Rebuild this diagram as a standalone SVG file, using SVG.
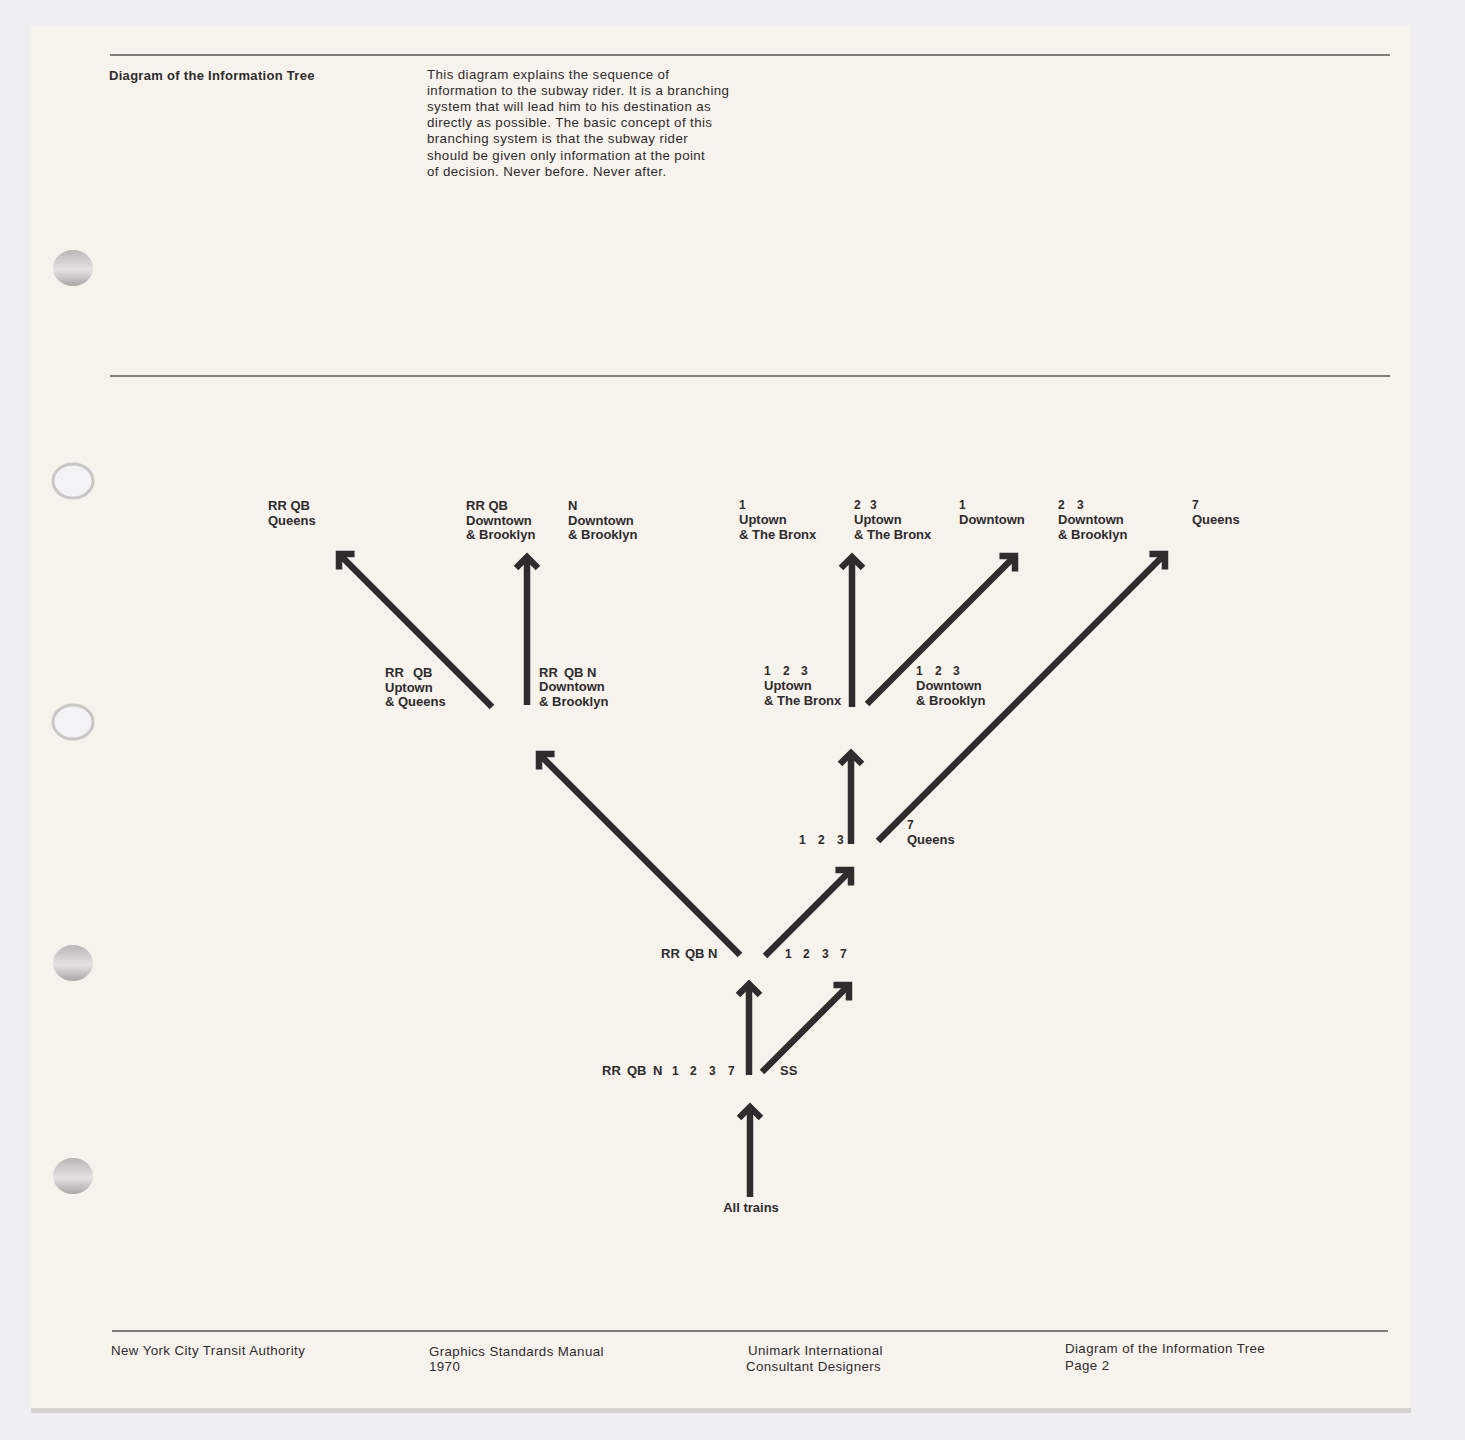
<svg xmlns="http://www.w3.org/2000/svg" width="1465" height="1440" viewBox="0 0 1465 1440">
<defs>
<style>
.lbl{font-family:"Liberation Sans",Arial,sans-serif;font-weight:bold;font-size:13px;fill:#2e2b2b}
.num{font-size:12px}
.hd{font-family:"Liberation Sans",Arial,sans-serif;font-weight:bold;font-size:13px;fill:#2e2b2b;letter-spacing:0.3px}
.body{font-family:"Liberation Sans",Arial,sans-serif;font-size:13.3px;fill:#2e2b2b;letter-spacing:0.4px}
.rule{stroke:#5a5654;stroke-width:1.3;fill:none}
.arr{stroke:#302c2d;stroke-width:6.5;fill:none;stroke-linecap:butt;marker-end:url(#ah)}
</style>
<marker id="ah" markerUnits="userSpaceOnUse" orient="auto" markerWidth="40" markerHeight="40" refX="20" refY="20" viewBox="0 0 40 40" overflow="visible">
<path d="M9,9 L20,20 L9,31" fill="none" stroke="#302c2d" stroke-width="6.5" stroke-linejoin="miter"/>
</marker>
<linearGradient id="holeG" x1="0" y1="0" x2="0" y2="1">
<stop offset="0" stop-color="#b9b7b5"/>
<stop offset="0.45" stop-color="#dcdbd9"/>
<stop offset="0.55" stop-color="#e4e3e1"/>
<stop offset="1" stop-color="#a9a7a5"/>
</linearGradient>
</defs>
<rect x="0" y="0" width="1465" height="1440" fill="#efeff1"/>
<rect x="31" y="1400" width="1380" height="13" fill="#d6d4d2"/>
<rect x="31" y="25" width="1380" height="1383" fill="#f6f3ed"/>
<g id="holes">
<ellipse cx="73" cy="268" rx="20" ry="18" fill="url(#holeG)"/>
<ellipse cx="73" cy="481" rx="20" ry="17" fill="#f3f3f5" stroke="#c9c7c5" stroke-width="3"/>
<ellipse cx="73" cy="722" rx="20" ry="17" fill="#f3f3f5" stroke="#c9c7c5" stroke-width="3"/>
<ellipse cx="73" cy="963" rx="20" ry="18" fill="url(#holeG)"/>
<ellipse cx="73" cy="1176" rx="20" ry="18" fill="url(#holeG)"/>
</g>
<g id="rules">
<line class="rule" x1="110" y1="55" x2="1390" y2="55"/>
<line class="rule" x1="110" y1="376" x2="1390" y2="376"/>
<line class="rule" x1="112" y1="1331" x2="1388" y2="1331"/>
</g>
<g id="header">
<text class="hd" x="109" y="80">Diagram of the Information Tree</text>
<text class="body" x="427" y="79">This diagram explains the sequence of</text>
<text class="body" x="427" y="95">information to the subway rider. It is a branching</text>
<text class="body" x="427" y="111">system that will lead him to his destination as</text>
<text class="body" x="427" y="127">directly as possible. The basic concept of this</text>
<text class="body" x="427" y="143">branching system is that the subway rider</text>
<text class="body" x="427" y="160">should be given only information at the point</text>
<text class="body" x="427" y="176">of decision. Never before. Never after.</text>
</g>
<g id="connectors">
<path class="arr" d="M750,1197 L750,1107"/>
<path class="arr" d="M749,1075 L749,984"/>
<path class="arr" d="M762,1072 L849,985"/>
<path class="arr" d="M740,955 L539,754"/>
<path class="arr" d="M765,956 L851,870"/>
<path class="arr" d="M851,844 L851,753"/>
<path class="arr" d="M878,841 L1165,554"/>
<path class="arr" d="M492,707 L339,554"/>
<path class="arr" d="M527,705 L527,557"/>
<path class="arr" d="M852,707 L852,557"/>
<path class="arr" d="M867,704 L1015,556"/>
</g>
<g id="node-all-trains"><text class="lbl" x="751" y="1212" text-anchor="middle" font-size="12.5">All trains</text></g>
<g id="node-level1">
<text class="lbl" y="1075"><tspan x="602">RR</tspan><tspan x="627">QB</tspan><tspan x="653">N</tspan></text>
<text class="lbl num" y="1075"><tspan x="672">1</tspan><tspan x="690">2</tspan><tspan x="709">3</tspan><tspan x="728">7</tspan></text>
<text class="lbl" x="780" y="1075">SS</text>
</g>
<g id="node-level2">
<text class="lbl" y="958"><tspan x="661">RR</tspan><tspan x="685">QB</tspan><tspan x="708">N</tspan></text>
<text class="lbl num" y="958"><tspan x="785">1</tspan><tspan x="803">2</tspan><tspan x="822">3</tspan><tspan x="840">7</tspan></text>
</g>
<g id="node-level3">
<text class="lbl num" y="844"><tspan x="799">1</tspan><tspan x="818">2</tspan><tspan x="837">3</tspan></text>
<text class="lbl num" x="907" y="829">7</text>
<text class="lbl" x="907" y="844">Queens</text>
</g>
<g id="node-rrqb-uptown">
<text class="lbl" y="677"><tspan x="385">RR</tspan><tspan x="413">QB</tspan></text>
<text class="lbl" x="385" y="691.5">Uptown</text>
<text class="lbl" x="385" y="706">&amp; Queens</text>
</g>
<g id="node-rrqbn-downtown">
<text class="lbl" y="676.5"><tspan x="539">RR</tspan><tspan x="564">QB</tspan><tspan x="587">N</tspan></text>
<text class="lbl" x="539" y="691">Downtown</text>
<text class="lbl" x="539" y="705.5">&amp; Brooklyn</text>
</g>
<g id="node-123-uptown">
<text class="lbl num" y="675"><tspan x="764">1</tspan><tspan x="783">2</tspan><tspan x="801">3</tspan></text>
<text class="lbl" x="764" y="690">Uptown</text>
<text class="lbl" x="764" y="705">&amp; The Bronx</text>
</g>
<g id="node-123-downtown">
<text class="lbl num" y="675"><tspan x="916">1</tspan><tspan x="935">2</tspan><tspan x="953">3</tspan></text>
<text class="lbl" x="916" y="690">Downtown</text>
<text class="lbl" x="916" y="705">&amp; Brooklyn</text>
</g>
<g id="node-top-rrqb-queens">
<text class="lbl" x="268" y="510">RR QB</text>
<text class="lbl" x="268" y="524.5">Queens</text>
</g>
<g id="node-top-rrqb-downtown">
<text class="lbl" x="466" y="510">RR QB</text>
<text class="lbl" x="466" y="524.5">Downtown</text>
<text class="lbl" x="466" y="539">&amp; Brooklyn</text>
</g>
<g id="node-top-n-downtown">
<text class="lbl" x="568" y="510">N</text>
<text class="lbl" x="568" y="524.5">Downtown</text>
<text class="lbl" x="568" y="539">&amp; Brooklyn</text>
</g>
<g id="node-top-1-uptown">
<text class="lbl num" x="739" y="509">1</text>
<text class="lbl" x="739" y="524">Uptown</text>
<text class="lbl" x="739" y="539">&amp; The Bronx</text>
</g>
<g id="node-top-23-uptown">
<text class="lbl num" y="509"><tspan x="854">2</tspan><tspan x="870">3</tspan></text>
<text class="lbl" x="854" y="524">Uptown</text>
<text class="lbl" x="854" y="539">&amp; The Bronx</text>
</g>
<g id="node-top-1-downtown">
<text class="lbl num" x="959" y="509">1</text>
<text class="lbl" x="959" y="524">Downtown</text>
</g>
<g id="node-top-23-downtown">
<text class="lbl num" y="509"><tspan x="1058">2</tspan><tspan x="1077">3</tspan></text>
<text class="lbl" x="1058" y="524">Downtown</text>
<text class="lbl" x="1058" y="538.5">&amp; Brooklyn</text>
</g>
<g id="node-top-7-queens">
<text class="lbl num" x="1192" y="509">7</text>
<text class="lbl" x="1192" y="524">Queens</text>
</g>
<g id="footer">
<text class="body" x="111" y="1355">New York City Transit Authority</text>
<text class="body" x="429" y="1356">Graphics Standards Manual</text>
<text class="body" x="429" y="1371">1970</text>
<text class="body" x="748" y="1355">Unimark International</text>
<text class="body" x="746" y="1371">Consultant Designers</text>
<text class="body" x="1065" y="1353">Diagram of the Information Tree</text>
<text class="body" x="1065" y="1370">Page 2</text>
</g>
</svg>
